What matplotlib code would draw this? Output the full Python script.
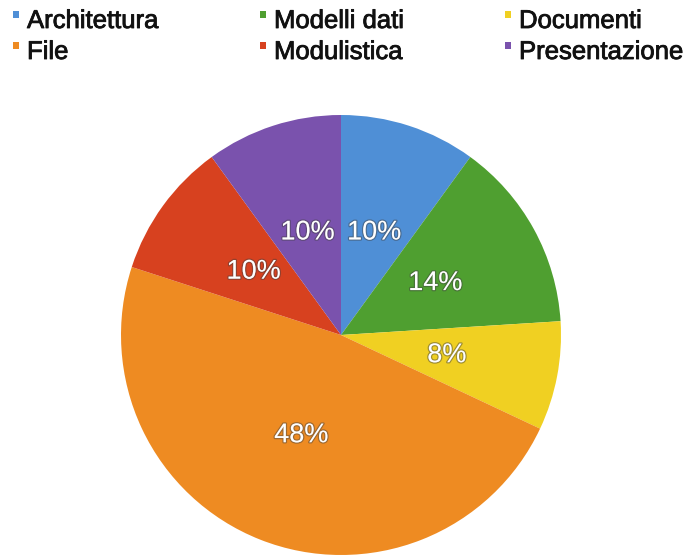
import matplotlib
matplotlib.use("Agg")
import matplotlib.pyplot as plt
import matplotlib.patheffects as pe
from matplotlib.patches import Rectangle

categories = ["Architettura", "Modelli dati", "Documenti", "File", "Modulistica", "Presentazione"]
values = [10, 14, 8, 48, 10, 10]
colors = ["#4f8fd6", "#4f9f30", "#f0d022", "#ee8b22", "#d7411f", "#7a52ad"]

plt.rcParams['font.family'] = ['Liberation Sans', 'DejaVu Sans']

W, H = 696, 557
fig = plt.figure(figsize=(W / 100, H / 100), dpi=100)
fig.patch.set_facecolor("white")

cx, cy, r = 341, 335, 220
ax = fig.add_axes([(cx - r) / W, (H - cy - r) / H, 2 * r / W, 2 * r / H])
wedges, texts, autotexts = ax.pie(
    values, colors=colors, startangle=90, counterclock=False,
    autopct=lambda p: f"{p:.0f}%", pctdistance=0.49,
    wedgeprops=dict(linewidth=0),
    textprops=dict(color="white", fontsize=19.5),
)
for t in autotexts:
    t.set_path_effects([pe.withStroke(linewidth=1.8, foreground=(0.25, 0.25, 0.25, 0.45))])
ax.set_xlim(-1, 1)
ax.set_ylim(-1, 1)
ax.set_aspect("equal")
ax.axis("off")

# legend (manual, 2 rows x 3 columns)
col_sq_x = [13, 260, 505]
col_tx_x = [27, 274, 519]
row_y = [21, 52]
for i, (cat, col) in enumerate(zip(categories, colors)):
    row, c = divmod(i, 3)
    y = row_y[row]
    fig.text(col_tx_x[c] / W, 1 - y / H, cat, fontsize=18.5, color="#111111",
             ha="left", va="center",
             path_effects=[pe.withStroke(linewidth=0.6, foreground="#111111")])
    fig.patches.append(Rectangle((col_sq_x[c] / W, 1 - (y - 3) / H), 6 / W, 7 / H,
                                 transform=fig.transFigure, facecolor=col,
                                 edgecolor="none"))

fig.savefig("out.png", dpi=100, facecolor="white")
